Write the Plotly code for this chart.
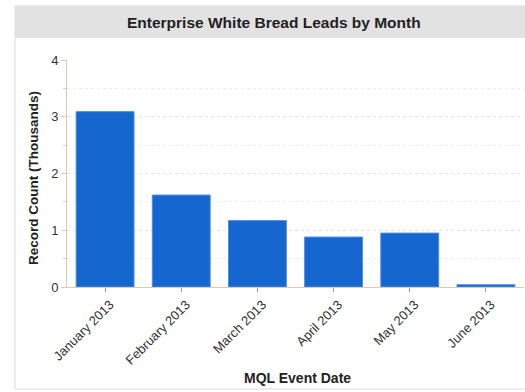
import plotly.graph_objects as go

months = ["January 2013", "February 2013", "March 2013", "April 2013", "May 2013", "June 2013"]
record_count_k = [3.09, 1.62, 1.17, 0.88, 0.95, 0.04]
y_ticks = [0, 1, 2, 3, 4]

FONT = "Liberation Sans, Arial, sans-serif"
BAR = "#1666d0"
AXIS = "#d9cbb5"

fig = go.Figure(go.Bar(
    x=months, y=record_count_k, width=0.76,
    marker=dict(color=BAR, line=dict(color="#4a8fe8", width=1)),
))

# plot area occupies x 67..524, y 60..287 px of a 525x392 page
L, R, T, B = 67, 1, 60, 105
pw, ph = 525 - L - R, 392 - T - B

def px(x):
    return (x - L) / pw

def py(y):
    return (392 - B - y) / ph

fig.update_layout(
    width=525, height=392,
    margin=dict(l=L, r=R, t=T, b=B, autoexpand=False),
    paper_bgcolor="white", plot_bgcolor="white",
    showlegend=False, bargap=0.24,
    font=dict(family=FONT, size=13, color="#333"),
    shapes=[
        # card frame
        dict(type="rect", xref="paper", yref="paper",
             x0=px(15), x1=px(527), y0=py(389), y1=py(6),
             line=dict(color="#dcdcdc", width=1), fillcolor="rgba(0,0,0,0)", layer="below"),
        # header band
        dict(type="rect", xref="paper", yref="paper",
             x0=px(15), x1=px(527), y0=py(38), y1=py(6),
             line=dict(width=0), fillcolor="#e2e2e2", layer="below"),
    ],
    annotations=[
        dict(text="<b>Enterprise White Bread Leads by Month</b>", xref="paper", yref="paper",
             x=px(274), y=py(22), showarrow=False, xanchor="center", yanchor="middle",
             font=dict(family=FONT, size=15.5, color="#222")),
        dict(text="<b>MQL Event Date</b>", xref="paper", yref="paper",
             x=px(297), y=py(378), showarrow=False, xanchor="center", yanchor="middle",
             font=dict(family=FONT, size=14, color="#222")),
        dict(text="<b>Record Count (Thousands)</b>", xref="paper", yref="paper",
             x=px(33), y=py(178), showarrow=False, xanchor="center", yanchor="middle",
             textangle=-90, font=dict(family=FONT, size=13.5, color="#222")),
    ],
)

fig.update_xaxes(
    type="category", range=[-0.5, 5.5], automargin=False,
    tickangle=-45, tickfont=dict(family=FONT, size=13, color="#333"),
    ticklabelshift=5,
    ticks="outside", ticklen=4, tickcolor="#999",
    showline=True, linecolor=AXIS, linewidth=1,
)

fig.update_yaxes(
    range=[0, 4], tickvals=y_ticks, ticktext=[str(v) for v in y_ticks], automargin=False,
    tickfont=dict(family=FONT, size=13, color="#333"),
    ticks="outside", ticklen=5, tickcolor=AXIS,
    showline=True, linecolor=AXIS, linewidth=1,
    showgrid=True, gridcolor="#e4e4e4", griddash="dot", gridwidth=1,
    minor=dict(dtick=0.5, ticks="outside", ticklen=3, tickcolor=AXIS,
               showgrid=True, gridcolor="#ececec", griddash="dot"),
    zeroline=False,
)

fig.write_html("out.html")
